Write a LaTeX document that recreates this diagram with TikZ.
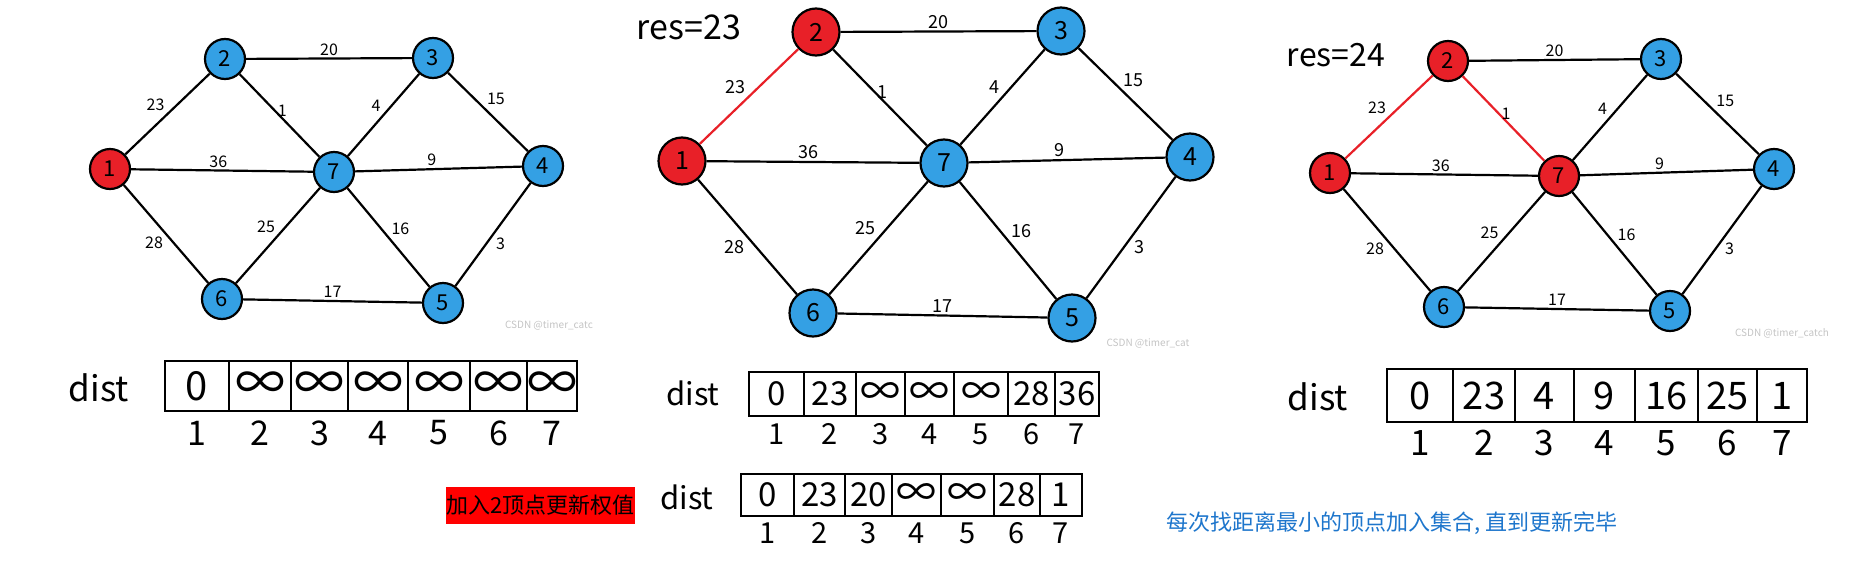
\documentclass[tikz,border=0pt]{standalone}
\usepackage{fontspec}
\setmainfont{Noto Sans CJK SC}
\definecolor{vred}{RGB}{232,32,40}
\definecolor{vblue}{RGB}{52,160,228}
\definecolor{tipblue}{RGB}{30,118,204}
\definecolor{markgray}{RGB}{196,196,196}
\newcommand{\fs}[1]{\fontsize{#1}{#1}\selectfont}
\begin{document}
\begin{tikzpicture}[x=1pt,y=-1pt]
	\tikzset{vertex/.style = {shape=circle,draw,line width=2.2pt,minimum size=40pt,inner sep=0pt,font=\fs{22}}}
	\tikzset{bv/.style = {vertex,fill=vblue}}
	\tikzset{rv/.style = {vertex,fill=vred}}
	\tikzset{wt/.style = {font=\fs{16},inner sep=2pt,text=black}}
	\tikzset{edge/.style = {line width=2.2pt}}
	\tikzset{cellline/.style = {line width=1.6pt}}
	\tikzset{cellnum/.style = {font=\fs{#1},inner sep=0pt}}
	\tikzset{wmark/.style = {font=\fs{10},text=markgray,inner sep=0pt}}
	\useasboundingbox (0,0) rectangle (1862,565);
	% first graph: start at 1
	\node[rv] (a1) at (110,169) {1};
	\node[bv] (a2) at (225,59) {2};
	\node[bv] (a3) at (433,58) {3};
	\node[bv] (a4) at (543,166) {4};
	\node[bv] (a5) at (443,303) {5};
	\node[bv] (a6) at (222,299) {6};
	\node[bv] (a7) at (334,172) {7};
	\foreach \u/\v/\w/\q/\p/\c in {1/2/23/.5/above left/black, 2/3/20/.5/above/black,
		2/7/1/.44/right/black, 7/3/4/.5/above left/black, 3/4/15/.45/above right/black,
		1/7/36/.48/above/black, 7/4/9/.46/above/black, 6/7/25/.5/above left/black,
		7/5/16/.5/above right/black, 1/6/28/.5/below left/black, 5/4/3/.5/below right/black,
		6/5/17/.5/above/black}
		\path[draw,edge] (a\u) edge[\c] node[wt,pos=\q,\p] {\w} (a\v);
	\node[wmark] (wm1) at (549,325) {CSDN @timer\_catc};
	% second graph: 2 joined
	\begin{scope}[vertex/.append style={minimum size=47pt,font=\fs{25}},wt/.append style={font=\fs{18}}]
	\node[rv] (b1) at (682,161) {1};
	\node[rv] (b2) at (816,32) {2};
	\node[bv] (b3) at (1061,31) {3};
	\node[bv] (b4) at (1190,157) {4};
	\node[bv] (b5) at (1072,318) {5};
	\node[bv] (b6) at (813,313) {6};
	\node[bv] (b7) at (944,163) {7};
	\foreach \u/\v/\w/\q/\p/\c in {1/2/23/.5/above left/vred, 2/3/20/.5/above/black,
		2/7/1/.44/right/black, 7/3/4/.5/above left/black, 3/4/15/.45/above right/black,
		1/7/36/.48/above/black, 7/4/9/.46/above/black, 6/7/25/.5/above left/black,
		7/5/16/.5/above right/black, 1/6/28/.5/below left/black, 5/4/3/.5/below right/black,
		6/5/17/.5/above/black}
		\path[draw,edge] (b\u) edge[\c] node[wt,pos=\q,\p] {\w} (b\v);
	\end{scope}
	\node[font=\fs{34}] (res2) at (689,27) {res=23};
	\node[wmark] (wm2) at (1148,343) {CSDN @timer\_cat};
	% third graph: 7 joined
	\node[rv] (c1) at (1330,173) {1};
	\node[rv] (c2) at (1448,61) {2};
	\node[bv] (c3) at (1661,59) {3};
	\node[bv] (c4) at (1774,169) {4};
	\node[bv] (c5) at (1670,311) {5};
	\node[bv] (c6) at (1444,307) {6};
	\node[rv] (c7) at (1559,176) {7};
	\foreach \u/\v/\w/\q/\p/\c in {1/2/23/.5/above left/vred, 2/3/20/.5/above/black,
		2/7/1/.44/right/vred, 7/3/4/.5/above left/black, 3/4/15/.45/above right/black,
		1/7/36/.48/above/black, 7/4/9/.46/above/black, 6/7/25/.5/above left/black,
		7/5/16/.5/above right/black, 1/6/28/.5/below left/black, 5/4/3/.5/below right/black,
		6/5/17/.5/above/black}
		\path[draw,edge] (c\u) edge[\c] node[wt,pos=\q,\p] {\w} (c\v);
	\node[font=\fs{32}] (res3) at (1336,55) {res=24};
	\node[wmark] (wm3) at (1782,333) {CSDN @timer\_catch};
	% dist tables
	\node[font=\fs{35}] (d1) at (99,388) {dist};
	\foreach \l/\r/\t [count=\i] in {165/229/0, 229/291/{\fs{50}∞}, 291/348/{\fs{50}∞},
		348/408/{\fs{50}∞}, 408/470/{\fs{50}∞}, 470/527/{\fs{50}∞}, 527/577/{\fs{50}∞}}
	{
		\draw[cellline] (\l,361) rectangle (\r,411);
		\node[cellnum=40] (ta\i) at ({(\l+\r)/2},386) {\t};
		\node[cellnum=34] (ia\i) at ({(\l+\r)/2},433) {\i};
	}
	\node[font=\fs{31}] (d2) at (693,393) {dist};
	\foreach \l/\r/\t [count=\i] in {749/804/0, 804/856/23, 856/905/{\fs{40}∞},
		905/954/{\fs{40}∞}, 954/1008/{\fs{40}∞}, 1008/1055/28, 1055/1099/36}
	{
		\draw[cellline] (\l,372) rectangle (\r,416);
		\node[cellnum=33] (tb\i) at ({(\l+\r)/2},394) {\t};
		\node[cellnum=29] (ib\i) at ({(\l+\r)/2},434) {\i};
	}
	\node[font=\fs{31}] (d3) at (687,497) {dist};
	\foreach \l/\r/\t [count=\i] in {741/794/0, 794/845/23, 845/892/20,
		892/941/{\fs{40}∞}, 941/994/{\fs{40}∞}, 994/1040/28, 1040/1082/1}
	{
		\draw[cellline] (\l,474) rectangle (\r,516);
		\node[cellnum=33] (tc\i) at ({(\l+\r)/2},495) {\t};
		\node[cellnum=29] (ic\i) at ({(\l+\r)/2},533) {\i};
	}
	\node[font=\fs{35}] (d4) at (1318,397) {dist};
	\foreach \l/\r/\t [count=\i] in {1387/1453/0, 1453/1515/23, 1515/1574/4,
		1574/1635/9, 1635/1698/16, 1698/1757/25, 1757/1807/1}
	{
		\draw[cellline] (\l,369) rectangle (\r,422);
		\node[cellnum=38] (td\i) at ({(\l+\r)/2},395.5) {\t};
		\node[cellnum=35] (id\i) at ({(\l+\r)/2},443) {\i};
	}
	% notes
	\node[fill=red,minimum width=187pt,minimum height=37pt,inner sep=0pt,font=\fs{22}] (note1) at (540.5,505.5) {加入2顶点更新权值};
	\node[text=tipblue,font=\fs{22}] (note2) at (1392,523) {每次找距离最小的顶点加入集合, 直到更新完毕};
\end{tikzpicture}
\end{document}
